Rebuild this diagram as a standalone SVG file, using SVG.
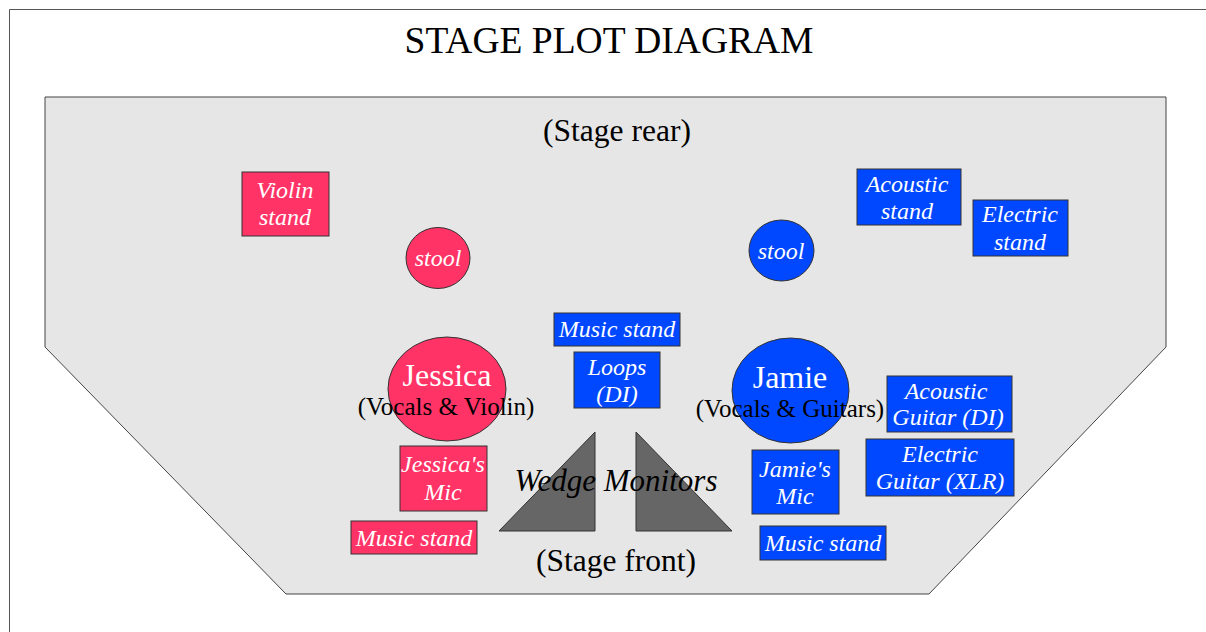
<svg xmlns="http://www.w3.org/2000/svg" width="1206" height="632" viewBox="0 0 1206 632" font-family="'Liberation Serif', 'DejaVu Serif', serif">
<style>
text{font-family:'Liberation Serif','DejaVu Serif',serif;text-anchor:middle}
.lbl{fill:#ffffff;font-style:italic;font-size:24px}
.pink{fill:#FF3366;stroke:#333333;stroke-width:1}
.blue{fill:#0048FF;stroke:#333333;stroke-width:1}
.wedge{fill:#666666;stroke:#333333;stroke-width:1}
.big{fill:#000000;font-size:31.5px}
.name{fill:#ffffff;font-size:32px}
.role{fill:#000000;font-size:25px}
</style>
<rect x="0" y="0" width="1206" height="632" fill="#ffffff"/>
<path d="M9.5 632 V9.5 H1206" fill="none" stroke="#555555" stroke-width="1"/>
<text x="609" y="53" style="font-size:37.5px;fill:#000">STAGE PLOT DIAGRAM</text>
<g id="stage">
<polygon points="45,97 1166,97 1166,347 929,594 286,594 45,347" fill="#E6E6E6" stroke="#444444" stroke-width="1"/>
<text class="big" x="617" y="141">(Stage rear)</text>
<text class="big" x="616" y="571">(Stage front)</text>
</g>
<g id="violin-stand"><rect class="pink" x="242" y="172" width="87" height="64"/><text class="lbl" x="285" y="198">Violin</text><text class="lbl" x="285" y="225">stand</text></g>
<g id="stool-jessica"><ellipse class="pink" cx="438" cy="258" rx="32" ry="30.5"/><text class="lbl" x="438" y="266">stool</text></g>
<g id="stool-jamie"><ellipse class="blue" cx="781.5" cy="250.5" rx="32.5" ry="30.5"/><text class="lbl" x="781" y="259">stool</text></g>
<g id="acoustic-stand"><rect class="blue" x="857" y="169" width="104" height="56"/><text class="lbl" x="907" y="192">Acoustic</text><text class="lbl" x="907" y="219">stand</text></g>
<g id="electric-stand"><rect class="blue" x="973" y="200" width="95" height="56"/><text class="lbl" x="1020" y="222">Electric</text><text class="lbl" x="1020" y="250">stand</text></g>
<g id="music-stand-center"><rect class="blue" x="554" y="313" width="126" height="33"/><text class="lbl" x="617" y="337">Music stand</text></g>
<g id="loops"><rect class="blue" x="574" y="352" width="86" height="56"/><text class="lbl" x="617" y="375">Loops</text><text class="lbl" x="617" y="402">(DI)</text></g>
<g id="jessica"><ellipse class="pink" cx="447" cy="389" rx="59" ry="52"/><text class="name" x="447" y="386">Jessica</text><text class="role" x="446" y="415">(Vocals &amp; Violin)</text></g>
<g id="jamie"><ellipse class="blue" cx="790.5" cy="390.5" rx="58.5" ry="52.5"/><text class="name" x="790" y="388">Jamie</text><text class="role" x="790" y="417">(Vocals &amp; Guitars)</text></g>
<g id="acoustic-guitar"><rect class="blue" x="887" y="376" width="125" height="56"/><text class="lbl" x="946" y="399">Acoustic</text><text class="lbl" x="948" y="425">Guitar (DI)</text></g>
<g id="electric-guitar"><rect class="blue" x="866" y="439" width="148" height="57"/><text class="lbl" x="940" y="462">Electric</text><text class="lbl" x="940" y="489">Guitar (XLR)</text></g>
<g id="jamies-mic"><rect class="blue" x="752" y="450" width="87" height="64"/><text class="lbl" x="795" y="477">Jamie's</text><text class="lbl" x="795" y="504">Mic</text></g>
<g id="music-stand-jamie"><rect class="blue" x="760" y="526" width="126" height="34"/><text class="lbl" x="823" y="551">Music stand</text></g>
<g id="jessicas-mic"><rect class="pink" x="400" y="446" width="87" height="65"/><text class="lbl" x="443" y="472">Jessica's</text><text class="lbl" x="443" y="500">Mic</text></g>
<g id="music-stand-jessica"><rect class="pink" x="351" y="521" width="126" height="33"/><text class="lbl" x="414" y="546">Music stand</text></g>
<g id="wedge-left"><polygon class="wedge" points="499,531 595,432 595,531"/></g>
<g id="wedge-right"><polygon class="wedge" points="636,432 636,531 732,531"/></g>
<g id="wedge-label"><text x="616" y="491" style="fill:#000;font-size:31px;font-style:italic">Wedge Monitors</text></g>
<g id="connectors"></g>
</svg>
